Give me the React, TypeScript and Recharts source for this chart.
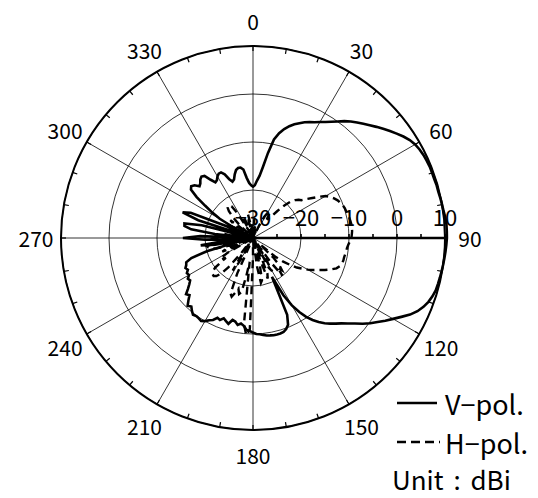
import React from 'react';
import { RadarChart, Radar, PolarGrid, PolarAngleAxis, PolarRadiusAxis } from 'recharts';

// Azimuth in degrees (clockwise from top), 2-degree steps
const ANGLES = [
  0, 2, 4, 6, 8, 10, 12, 14, 16, 18, 20, 22, 24, 26, 28, 30, 32, 34, 36, 38,
  40, 42, 44, 46, 48, 50, 52, 54, 56, 58, 60, 62, 64, 66, 68, 70, 72, 74, 76, 78,
  80, 82, 84, 86, 88, 90, 92, 94, 96, 98, 100, 102, 104, 106, 108, 110, 112, 114, 116, 118,
  120, 122, 124, 126, 128, 130, 132, 134, 136, 138, 140, 142, 144, 146, 148, 150, 152, 154, 156, 158,
  160, 162, 164, 166, 168, 170, 172, 174, 176, 178, 180, 182, 184, 186, 188, 190, 192, 194, 196, 198,
  200, 202, 204, 206, 208, 210, 212, 214, 216, 218, 220, 222, 224, 226, 228, 230, 232, 234, 236, 238,
  240, 242, 244, 246, 248, 250, 252, 254, 256, 258, 260, 262, 264, 266, 268, 270, 272, 274, 276, 278,
  280, 282, 284, 286, 288, 290, 292, 294, 296, 298, 300, 302, 304, 306, 308, 310, 312, 314, 316, 318,
  320, 322, 324, 326, 328, 330, 332, 334, 336, 338, 340, 342, 344, 346, 348, 350, 352, 354, 356, 358,
];

// V-pol gain (dBi)
const V_POL = [
  -19.3, -19.0, -18.0, -17.0, -15.0, -12.0, -9.0, -7.5, -6.4, -5.5, -4.8, -4.2, -3.6, -3.1, -2.7, -2.1, -1.5, -0.8, 0.0, 0.9,
  1.7, 2.4, 3.1, 3.8, 4.6, 5.4, 6.2, 7.0, 7.8, 8.5, 9.0, 9.3, 9.5, 9.6, 9.7, 9.7, 9.7, 9.8, 9.8, 9.9,
  10.0, 10.1, 10.3, 10.4, 10.4, 10.4, 10.3, 10.2, 10.1, 10.0, 9.9, 9.8, 9.7, 9.6, 9.3, 8.9, 8.3, 7.5, 6.4, 5.0,
  3.7, 2.5, 1.3, 0.2, -1.0, -2.3, -3.4, -4.4, -5.2, -6.0, -6.8, -7.8, -8.9, -10.2, -11.8, -13.8, -16.5, -21.0, -12.5, -10.5,
  -9.8, -9.4, -9.3, -9.3, -9.3, -9.4, -9.5, -9.7, -9.9, -10.0, -10.3, -10.6, -10.8, -11.6, -12.0, -11.6, -12.2, -12.4, -11.4, -11.8,
  -12.2, -11.6, -11.8, -11.0, -10.6, -10.0, -9.6, -9.8, -9.9, -9.7, -10.2, -10.8, -10.4, -11.3, -12.2, -11.8, -12.8, -13.6, -14.2, -14.0,
  -14.6, -14.4, -14.9, -14.6, -15.0, -15.2, -16.5, -20.0, -26.0, -30.0, -22.0, -19.0, -24.0, -30.0, -20.0, -15.4, -19.0, -30.0, -22.0, -17.0,
  -15.5, -15.4, -19.0, -30.0, -18.0, -14.4, -16.0, -24.0, -30.0, -26.0, -22.0, -20.0, -18.0, -15.5, -13.6, -13.2, -13.6, -14.5, -14.2, -13.6,
  -13.3, -13.6, -15.0, -16.0, -15.8, -15.2, -14.8, -14.8, -15.5, -16.8, -17.5, -17.2, -16.2, -15.4, -15.1, -15.1, -15.6, -17.4, -18.5, -19.0,
];

// H-pol gain (dBi)
const H_POL = [
  -28, -30, -26, -30, -30, -27, -30, -30, -30, -28, -30, -30, -30, -27, -25, -24, -23.5, -24, -25, -25,
  -24.5, -22.5, -20.5, -19, -18.2, -17.6, -17.2, -16.2, -15.1, -13.8, -12.5, -11.8, -11.2, -10.7, -10.4, -10.1, -9.9, -9.8, -9.6, -9.5,
  -9.4, -9.3, -9.3, -9.3, -9.4, -9.5, -9.8, -10.1, -10.3, -10.4, -10.5, -10.6, -10.6, -10.8, -11.0, -11.5, -12.5, -13.6, -14.8, -15.8,
  -16.8, -18.0, -19.0, -20.5, -22.0, -24, -28, -24, -22, -21, -22, -20, -24, -30, -26, -22, -23, -30, -27, -22,
  -21, -25, -30, -24, -21, -20.5, -24, -30, -28, -30, -26, -11, -9.7, -12, -25, -22, -18.5, -18, -19, -18,
  -17, -17.5, -22, -30, -28, -24, -22, -26, -30, -26, -22, -20, -19, -18.6, -18.7, -19, -20, -23, -22, -22,
  -24, -30, -26, -23, -24, -28, -25, -22, -21, -20.5, -20.2, -22, -27, -23, -21, -22, -26, -30, -26, -24,
  -27, -30, -25, -23.5, -26, -30, -28, -30, -26, -24.5, -26, -30, -28, -25, -24, -26, -30, -26, -24, -22.5,
  -21.8, -21.5, -21.6, -22, -24, -28, -30, -26, -25, -27, -30, -28, -30, -26, -25, -27, -30, -30, -27, -30,
];

const RADIAL_TICKS = [-30, -25, -20, -15, -10, -5, 0, 5, 10];
const GRID_RINGS = [-20, -10, 0, 10];
const ANGLE_LABELS = [0, 30, 60, 90, 120, 150, 180, 210, 240, 270, 300, 330];
const SERIES_NAMES = ['V\u2212pol.', 'H\u2212pol.'];
const UNIT_LABEL = 'Unit : dBi';

const W = 538;
const H = 498;
const CX = 253;
const CY = 238;
const R = 192;
const R_MIN = -30;
const R_MAX = 10;
const FONT = '"Noto Sans CJK JP", "Noto Sans", sans-serif';

const data = ANGLES.map((a, i) => ({ angle: a, v: V_POL[i], h: H_POL[i] }));

const ringPx = (db: number) => ((db - R_MIN) / (R_MAX - R_MIN)) * R;

const fmt = (v: number) => (v < 0 ? '\u2212' + Math.abs(v) : String(v));

const AngleTick = (props: any) => {
  const { payload } = props;
  const a = Number(payload.value);
  if (a % 10 !== 0) return <g />;
  const cx = typeof props.cx === 'number' ? props.cx : CX;
  const cy = typeof props.cy === 'number' ? props.cy : CY;
  const rad = (a * Math.PI) / 180;
  const dx = Math.sin(rad);
  const dy = -Math.cos(rad);
  return (
    <g>
      <line
        x1={cx + dx * R}
        y1={cy + dy * R}
        x2={cx + dx * (R - 5)}
        y2={cy + dy * (R - 5)}
        stroke="#000"
        strokeWidth={1.2}
      />
      {a % 30 === 0 && (
        <text
          x={cx + dx * (R + 25)}
          y={cy + dy * (R + 25)}
          textAnchor="middle"
          dominantBaseline="central"
          fontFamily={FONT}
          fontSize={21}
          fill="#000"
        >
          {a}
        </text>
      )}
    </g>
  );
};

const RadiusTick = (props: any) => {
  const { x, y, payload } = props;
  const v = Number(payload.value);
  return (
    <g>
      {v > R_MIN && <line x1={x} y1={y} x2={x} y2={y - 4} stroke="#000" strokeWidth={1.6} />}
      {v % 10 === 0 && (
        <text
          x={x}
          y={y - 22}
          textAnchor="middle"
          dominantBaseline="central"
          fontFamily={FONT}
          fontSize={22}
          fill="#000"
        >
          {fmt(v)}
        </text>
      )}
    </g>
  );
};

const LegendBlock = () => (
  <g fontFamily={FONT} fontSize={27} fill="#000">
    <line x1={397} y1={403} x2={437} y2={403} stroke="#000" strokeWidth={2.5} />
    <text x={445} y={403} dominantBaseline="central">{SERIES_NAMES[0]}</text>
    <line
      x1={397}
      y1={442}
      x2={440}
      y2={442}
      stroke="#000"
      strokeWidth={2.5}
      strokeDasharray="9 5 9 5 9 5 2 20"
    />
    <text x={445} y={442} dominantBaseline="central">{SERIES_NAMES[1]}</text>
    <text x={392} y={478} fontSize={26} wordSpacing={4} dominantBaseline="central">{UNIT_LABEL}</text>
  </g>
);

export default function App() {
  return (
    <div style={{ position: 'absolute', left: 0, top: 0, width: W, height: H, background: '#fff' }}>
      <RadarChart
        width={W}
        height={H}
        data={data}
        cx={CX}
        cy={CY}
        outerRadius={R}
        startAngle={90}
        endAngle={-270}
        margin={{ top: 0, right: 0, bottom: 0, left: 0 }}
      >
        <PolarGrid
          gridType="circle"
          stroke="#000"
          strokeWidth={0.8}
          polarAngles={ANGLE_LABELS.map((a) => 90 - a)}
          polarRadius={GRID_RINGS.map(ringPx)}
        />
        <PolarAngleAxis
          dataKey="angle"
          type="category"
          axisLineType="circle"
          axisLine={{ stroke: '#000', strokeWidth: 2 }}
          tickLine={false}
          tick={<AngleTick />}
        />
        <PolarRadiusAxis
          angle={0}
          type="number"
          domain={[R_MIN, R_MAX]}
          allowDataOverflow
          ticks={RADIAL_TICKS as any}
          tickCount={RADIAL_TICKS.length}
          axisLine={{ stroke: '#000', strokeWidth: 2.5 }}
          tickLine={false}
          tick={<RadiusTick />}
        />
        <Radar
          name={SERIES_NAMES[0]}
          dataKey="v"
          stroke="#000"
          strokeWidth={2.6}
          fill="none"
          fillOpacity={0}
          dot={false}
          isAnimationActive={false}
        />
        <Radar
          name={SERIES_NAMES[1]}
          dataKey="h"
          stroke="#000"
          strokeWidth={2.4}
          strokeDasharray="8 5"
          fill="none"
          fillOpacity={0}
          dot={false}
          isAnimationActive={false}
        />
        <LegendBlock />
      </RadarChart>
    </div>
  );
}
